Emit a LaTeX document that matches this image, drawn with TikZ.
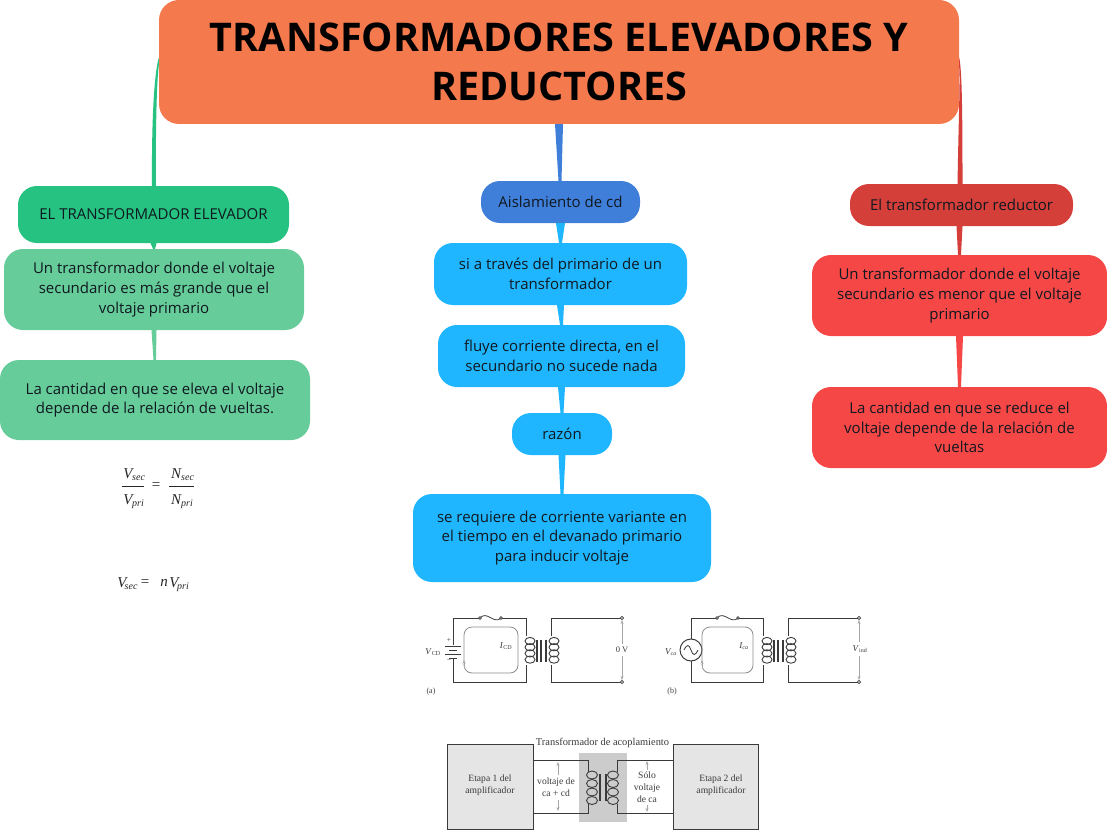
\documentclass[tikz,border=0pt]{standalone}
\usepackage{fontspec}
\setmainfont{Open Sans}
\newfontfamily\tnr{Liberation Serif}
\usetikzlibrary{calc,arrows.meta}
\definecolor{ctitle}{HTML}{F47A4D}
\definecolor{cgreenA}{HTML}{26C281}
\definecolor{cgreenB}{HTML}{66CC99}
\definecolor{cblueA}{HTML}{3F7FD9}
\definecolor{cblueB}{HTML}{1FB6FF}
\definecolor{credA}{HTML}{D43F3A}
\definecolor{credB}{HTML}{F64747}
\definecolor{ink}{HTML}{101820}
\definecolor{wire}{HTML}{3A3A3A}
\tikzset{
  x=1pt,y=-1pt,
  mapbox/.style={inner sep=0pt,rounded corners=19pt,align=center,text=ink,font=\fontsize{15}{19.6}\selectfont},
  ttlbox/.style={inner sep=0pt,rounded corners=20pt,align=center,text=black,font=\fontsize{39.5}{49}\selectfont\bfseries},
  lbl/.style={inner sep=0pt,align=center,text=wire,font=\tnr\fontsize{9.6}{12}\selectfont},
  eqn/.style={inner sep=0pt,text=black!85,font=\tnr\fontsize{15}{15}\selectfont\itshape},
  subs/.style={inner sep=0pt,text=black!85,font=\tnr\fontsize{10}{10}\selectfont\itshape},
  wr/.style={draw=wire,line width=0.8pt},
  curloop/.style={draw=black!45,line width=0.8pt,rounded corners=8pt},
  arrowg/.style={draw=black!35,line width=0.5pt,-{Stealth[length=4pt,width=3pt]}},
  termc/.style={draw=wire,fill=white,line width=0.6pt},
}
\newcommand{\coilat}[2]{%
  \foreach \i in {0,1,2,3}{\draw[wr,line width=0.9pt] (#1,#2+\i*6.2) ellipse [x radius=5,y radius=3.6];}}
\begin{document}
\begin{tikzpicture}
\useasboundingbox (0,0) rectangle (1107,837);
\node[ttlbox,fill=ctitle,minimum width=800pt,minimum height=124pt] (title) at (559,62) {TRANSFORMADORES ELEVADORES Y\\REDUCTORES};
% left
\node[mapbox,fill=cgreenA,minimum width=271pt,minimum height=57pt] (ga) at (153.5,214.5) {EL TRANSFORMADOR ELEVADOR};
\node[mapbox,fill=cgreenB,minimum width=300pt,minimum height=81pt] (gb) at (154,289.5) {Un transformador donde el voltaje\\secundario es más grande que el\\voltaje primario};
\node[mapbox,fill=cgreenB,minimum width=310pt,minimum height=80pt] (gc) at (155,400) {La cantidad en que se eleva el voltaje\\depende de la relación de vueltas.};
% centre
\node[mapbox,fill=cblueA,minimum width=159pt,minimum height=42pt] (ba) at (560.5,202) {Aislamiento de cd};
\node[mapbox,fill=cblueB,minimum width=253pt,minimum height=62pt] (bb) at (560.5,274) {si a través del primario de un\\transformador};
\node[mapbox,fill=cblueB,minimum width=247pt,minimum height=62pt] (bc) at (561.5,356) {fluye corriente directa, en el\\secundario no sucede nada};
\node[mapbox,fill=cblueB,minimum width=100pt,minimum height=42pt] (bd) at (562,434) {razón};
\node[mapbox,fill=cblueB,minimum width=298pt,minimum height=88pt] (be) at (562,538) {se requiere de corriente variante en\\el tiempo en el devanado primario\\para inducir voltaje};
% right
\node[mapbox,fill=credA,minimum width=223pt,minimum height=42pt] (ra) at (961.5,205) {El transformador reductor};
\node[mapbox,fill=credB,minimum width=295pt,minimum height=81pt] (rb) at (959.5,295.5) {Un transformador donde el voltaje\\secundario es menor que el voltaje\\primario};
\node[mapbox,fill=credB,minimum width=295pt,minimum height=81pt] (rc) at (959.5,427.5) {La cantidad en que se reduce el\\voltaje depende de la relación de\\vueltas};
% connectors
\fill[cgreenA] ($(title.north west)+(0,58)$) .. controls ($(title.north west)+(-5,75)$) and ($(ga.north)+(-2,-60)$) .. ($(ga.north)+(-1.5,0)$) -- ($(ga.north)+(2.5,0)$) .. controls ($(ga.north)+(2,-60)$) and ($(title.north west)+(-2,80)$) .. ($(title.north west)+(0,66)$) -- cycle;
\fill[credA] ($(title.north east)+(0,58)$) .. controls ($(title.north east)+(3,70)$) and ($(ra.north)+(1,-60)$) .. ($(ra.north)+(1,0)$) -- ($(ra.north)+(-4,0)$) .. controls ($(ra.north)+(-3,-60)$) and ($(title.north east)+(1,80)$) .. ($(title.north east)+(0,68)$) -- cycle;
\fill[cblueA] ($(title.south)+(-4,0)$) -- ($(title.south)+(4,0)$) -- ($(ba.north)+(1,0)$) -- ($(ba.north)+(-2,0)$) -- cycle;
\fill[cblueB] ($(ba.south)+(-4.5,0)$) -- ($(ba.south)+(4.5,0)$) -- ($(bb.north)+(1.5,0)$) -- ($(bb.north)+(-1.5,0)$) -- cycle;
\fill[cblueB] ($(bb.south)+(-3.5,0)$) -- ($(bb.south)+(3.5,0)$) -- ($(bc.north)+(1.5,0)$) -- ($(bc.north)+(-1.5,0)$) -- cycle;
\fill[cblueB] ($(bc.south)+(-3.5,0)$) -- ($(bc.south)+(3.5,0)$) -- ($(bd.north)+(1.5,0)$) -- ($(bd.north)+(-1.5,0)$) -- cycle;
\fill[cblueB] ($(bd.south)+(-3.5,0)$) -- ($(bd.south)+(3.5,0)$) -- ($(be.north)+(1.5,0)$) -- ($(be.north)+(-1.5,0)$) -- cycle;
\fill[cgreenA] ($(ga.south)+(-3,0)$) -- ($(ga.south)+(3,0)$) -- ($(gb.north)+(1,0)$) -- ($(gb.north)+(-1,0)$) -- cycle;
\fill[cgreenB] ($(gb.south)+(-2.5,0)$) -- ($(gb.south)+(2.5,0)$) -- ($(gc.north)+(1,0)$) -- ($(gc.north)+(-1.5,0)$) -- cycle;
\fill[credA] ($(ra.south)+(-5,0)$) -- ($(ra.south)+(1,0)$) -- ($(rb.north)+(1.5,0)$) -- ($(rb.north)+(-1.5,0)$) -- cycle;
\fill[credB] ($(rb.south)+(-3.5,0)$) -- ($(rb.south)+(3.5,0)$) -- ($(rc.north)+(1.5,0)$) -- ($(rc.north)+(-1.5,0)$) -- cycle;
% equations
\node[eqn] (v1) at (128,474) {V}; \node[subs,anchor=west] at (132,478.5) {sec};
\draw[black!85,line width=0.7pt] (122,486.5) -- (144,486.5);
\node[eqn] (v2) at (128,500) {V}; \node[subs,anchor=west] at (132,504.5) {pri};
\node[eqn,font=\tnr\fontsize{15}{15}\selectfont] at (156,486.5) {=};
\node[eqn] (n1) at (176,474) {N}; \node[subs,anchor=west] at (181,478.5) {sec};
\draw[black!85,line width=0.7pt] (169,486.5) -- (194,486.5);
\node[eqn] (n2) at (176,500) {N}; \node[subs,anchor=west] at (181,504.5) {pri};
\node[eqn] at (122,583) {V}; \node[subs,anchor=west] at (124.5,587.5) {sec};
\node[eqn,font=\tnr\fontsize{15}{15}\selectfont] at (145,583) {=};
\node[eqn] at (164,583) {n}; \node[eqn] at (174,583) {V}; \node[subs,anchor=west] at (177,587.5) {pri};
% circuit a
\draw[wr] (453,645) -- (453,618) -- (480,618) (501,618) -- (526,618) -- (526,636) (526,665) -- (526,682) -- (453,682) -- (453,659);
\draw[wr] (480,618) .. controls (487,610) and (494,625) .. (501,618);
\draw[termc] (480,618) circle (1.4) (501,618) circle (1.4);
\draw[wr,line width=1pt] (445,646) -- (461,646) (449,650) -- (457,650) (445,654) -- (461,654) (449,658) -- (457,658);
\coilat{530}{641}
\draw[wr,line width=1.3pt] (537,640) -- (537,662) (541,640) -- (541,662) (546,640) -- (546,662);
\coilat{554}{641}
\draw[wr] (551,636) -- (551,618) -- (622,618) (551,665) -- (551,682) -- (622,682);
\draw[termc] (622,618) circle (1.6) (622,682) circle (1.6);
\draw[arrowg] (622,644) -- (622,620); \draw[arrowg] (622,656) -- (622,680);
\draw[curloop] (464,662) -- (464,627) -- (518,627) -- (518,673) -- (464,673) -- (464,664);
\draw[arrowg] (464,668) -- (464,660);
\node[lbl,font=\tnr\fontsize{9}{11}\selectfont] at (433,652) {\textit{V}\textsubscript{CD}};
\node[lbl,font=\tnr\fontsize{9}{11}\selectfont] at (506,646) {\textit{I}\textsubscript{CD}};
\node[lbl,font=\tnr\fontsize{8.5}{11}\selectfont] at (622,650) {0 V};
\node[lbl,font=\tnr\fontsize{7.5}{9}\selectfont] at (449,640) {+};
\node[lbl,font=\tnr\fontsize{7.5}{9}\selectfont] at (449,661) {−};
\node[lbl,font=\tnr\fontsize{8}{10}\selectfont] at (431,692) {(a)};
% circuit b
\draw[wr] (691,639) -- (691,618) -- (717,618) (738,618) -- (763,618) -- (763,636) (763,665) -- (763,682) -- (691,682) -- (691,661);
\draw[wr] (717,618) .. controls (724,610) and (731,625) .. (738,618);
\draw[termc] (717,618) circle (1.4) (738,618) circle (1.4);
\draw[wr,fill=white,line width=1pt] (691,650) circle (11);
\draw[wr] (684,650) .. controls (687,644) and (689,644) .. (691,650) .. controls (693,656) and (695,656) .. (698,650);
\coilat{767}{641}
\draw[wr,line width=1.3pt] (774,640) -- (774,662) (778,640) -- (778,662) (783,640) -- (783,662);
\coilat{791}{641}
\draw[wr] (788,636) -- (788,618) -- (859,618) (788,665) -- (788,682) -- (859,682);
\draw[termc] (859,618) circle (1.6) (859,682) circle (1.6);
\draw[arrowg] (859,642) -- (859,620);
\draw[arrowg] (859,656) -- (859,680);
\draw[curloop] (702,662) -- (702,627) -- (753,627) -- (753,673) -- (702,673) -- (702,664);
\draw[arrowg] (702,668) -- (702,660);
\node[lbl,font=\tnr\fontsize{9}{11}\selectfont] at (671,652) {\textit{V\textsubscript{ca}}};
\node[lbl,font=\tnr\fontsize{9}{11}\selectfont] at (744,646) {\textit{I\textsubscript{ca}}};
\node[lbl,font=\tnr\fontsize{9}{11}\selectfont] at (860,649) {\textit{V}\textsubscript{ind}};
\node[lbl,font=\tnr\fontsize{8}{10}\selectfont] at (672,692) {(b)};
% coupling figure
\fill[black!20] (579,753) rectangle (627,822);
\draw[wr,fill=black!10] (447,744) rectangle (533,829);
\draw[wr,fill=black!10] (673,744) rectangle (758,829);
\draw[wr] (533,760) -- (588,760) -- (588,772) (588,804) -- (588,813) -- (533,813);
\draw[wr] (673,760) -- (617,760) -- (617,772) (617,804) -- (617,813) -- (673,813);
\foreach \k in {0,1,2,3}{\draw[wr,line width=0.9pt] (592,775+\k*8.5) ellipse [x radius=5.5,y radius=4];\draw[wr,line width=0.9pt] (613,775+\k*8.5) ellipse [x radius=5.5,y radius=4];}
\draw[wr,line width=1.3pt] (600,774) -- (600,801) (606,774) -- (606,801);
\fill[white] (534,737) rectangle (672,749);
\node[lbl,font=\tnr\fontsize{10.4}{12}\selectfont] at (602.5,743) {Transformador de acoplamiento};
\node[lbl,font=\tnr\fontsize{9.6}{12}\selectfont] at (490,785) {Etapa 1 del\\amplificador};
\node[lbl,font=\tnr\fontsize{9.6}{12}\selectfont] at (721,785) {Etapa 2 del\\amplificador};
\node[lbl,font=\tnr\fontsize{9.6}{12}\selectfont] at (556,787) {voltaje de\\ca + cd};
\node[lbl,font=\tnr\fontsize{9.6}{12}\selectfont] at (647,787) {Sólo\\voltaje\\de ca};
\draw[arrowg] (558,775) -- (558,762); \draw[arrowg] (558,800) -- (558,811);
\draw[arrowg] (647,770) -- (647,761); \draw[arrowg] (647,805) -- (647,812);
\end{tikzpicture}
\end{document}
